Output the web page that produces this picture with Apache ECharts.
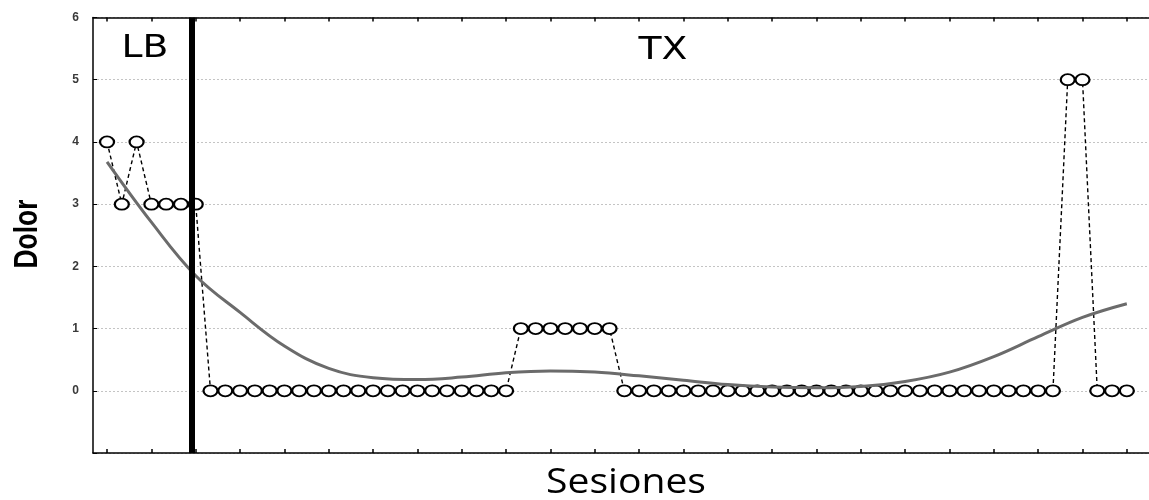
<!DOCTYPE html>
<html>
<head>
<meta charset="utf-8">
<script src="https://cdn.jsdelivr.net/npm/echarts@6/dist/echarts.min.js"></script>
<style>html,body{margin:0;padding:0;background:#fff}#c{width:1149px;height:500px}</style>
</head>
<body>
<div id="c"></div>
<script>
// Session index (0-based) for each observation
const sessions = [0,1,2,3,4,5,6,7,8,9,10,11,12,13,14,15,16,17,18,19,20,21,22,23,24,25,26,27,28,29,30,31,32,33,34,35,36,37,38,39,40,41,42,43,44,45,46,47,48,49,50,51,52,53,54,55,56,57,58,59,60,61,62,63,64,65,66,67,68,69];
// Pain score per session
const dolor = [4,3,4,3,3,3,3,
  0,0,0,0,0,0,0,0,0,0,0,0,0,0,0,0,0,0,0,0,0,
  1,1,1,1,1,1,1,
  0,0,0,0,0,0,0,0,0,0,0,0,0,0,0,0,0,0,0,0,0,0,0,0,0,0,0,0,0,0,
  5,5,
  0,0,0];
// Fitted trend curve
const trendX = [0,3,6,9,12,15,18,21,24,27,30,33,36,39,42,45,48,51,54,57,60,63,66,69];
const trendY = [3.68,2.71,1.85,1.26,0.72,0.36,0.21,0.18,0.22,0.29,0.32,0.30,0.24,0.17,0.10,0.06,0.05,0.07,0.15,0.30,0.55,0.87,1.18,1.40];
// Axis ticks
const xTicks = [0,3,6,9,12,15,18,21,24,27,30,33,36,39,42,45,48,51,54,57,60,63,66,69];
const yLabels = [0,1,2,3,4,5,6];
// Phase change (LB -> TX)
const phaseChange = 5.76;
const phaseNames = ['LB','TX'];
const yTitle = 'Dolor';
const xTitle = 'Sesiones';

const chart = echarts.init(document.getElementById('c'));
const pts = sessions.map((s,i)=>[s, dolor[i]]);
const trend = trendX.map((x,i)=>[x, trendY[i]]);

const xCommon = {
  type:'value', min:-0.95, max:70.5,
  axisLine:{show:true, onZero:false, lineStyle:{color:'#000', width:1.5}},
  axisTick:{show:true, inside:true, length:4, customValues:xTicks, lineStyle:{color:'#000', width:1.5}},
  axisLabel:{show:false},
  splitLine:{show:false}
};

chart.setOption({
  animation:false,
  backgroundColor:'#fff',
  grid:{left:93, right:0, top:17.5, bottom:47, containLabel:false, outerBoundsMode:'none'},
  xAxis:[
    Object.assign({}, xCommon, {position:'bottom'}),
    Object.assign({}, xCommon, {position:'top'})
  ],
  yAxis:{
    type:'value', min:-1, max:6, interval:1,
    axisLine:{show:true, onZero:false, lineStyle:{color:'#000', width:1.5}},
    axisTick:{show:true, inside:true, length:4, lineStyle:{color:'#000'}},
    axisLabel:{margin:14, fontFamily:'Liberation Sans', fontWeight:'bold', fontSize:12, color:'#3a3a3a',
      formatter:v=> yLabels.indexOf(v) >= 0 ? String(v) : ''},
    splitLine:{show:true, lineStyle:{color:'#c4c4c4', type:[2,2], width:1}}
  },
  graphic:[
    {type:'text', x:28, y:234, rotation:Math.PI/2, scaleX:0.8,
      style:{text:yTitle, fontFamily:'Liberation Sans', fontWeight:'bold', fontSize:33, fill:'#000', align:'center', verticalAlign:'middle'}},
    {type:'text', x:626, y:483, scaleX:1.15,
      style:{text:xTitle, fontFamily:'Open Sans', fontSize:34, fill:'#000', align:'center', verticalAlign:'middle'}},
    {type:'text', x:145, y:49, scaleX:1.18, style:{text:phaseNames[0], fontFamily:'DejaVu Sans', fontSize:32, fill:'#000', align:'center', verticalAlign:'middle'}},
    {type:'text', x:663, y:51, scaleX:1.18, style:{text:phaseNames[1], fontFamily:'DejaVu Sans', fontSize:32, fill:'#000', align:'center', verticalAlign:'middle'}}
  ],
  series:[
    {
      type:'line', data:pts, xAxisIndex:0, z:2,
      symbol:'emptyCircle', symbolSize:[14,11], showAllSymbol:true,
      itemStyle:{color:'#000', borderWidth:1.2},
      lineStyle:{color:'#000', width:1.4, type:[4,3]}
    },
    {
      type:'line', data:trend, xAxisIndex:0, z:3, smooth:0.4,
      showSymbol:false, symbol:'none',
      lineStyle:{color:'#6b6b6b', width:3},
      markLine:{silent:true, symbol:'none', label:{show:false},
        lineStyle:{color:'#000', width:6, type:'solid'},
        data:[{xAxis:phaseChange}]}
    }
  ]
});
</script>
</body>
</html>
